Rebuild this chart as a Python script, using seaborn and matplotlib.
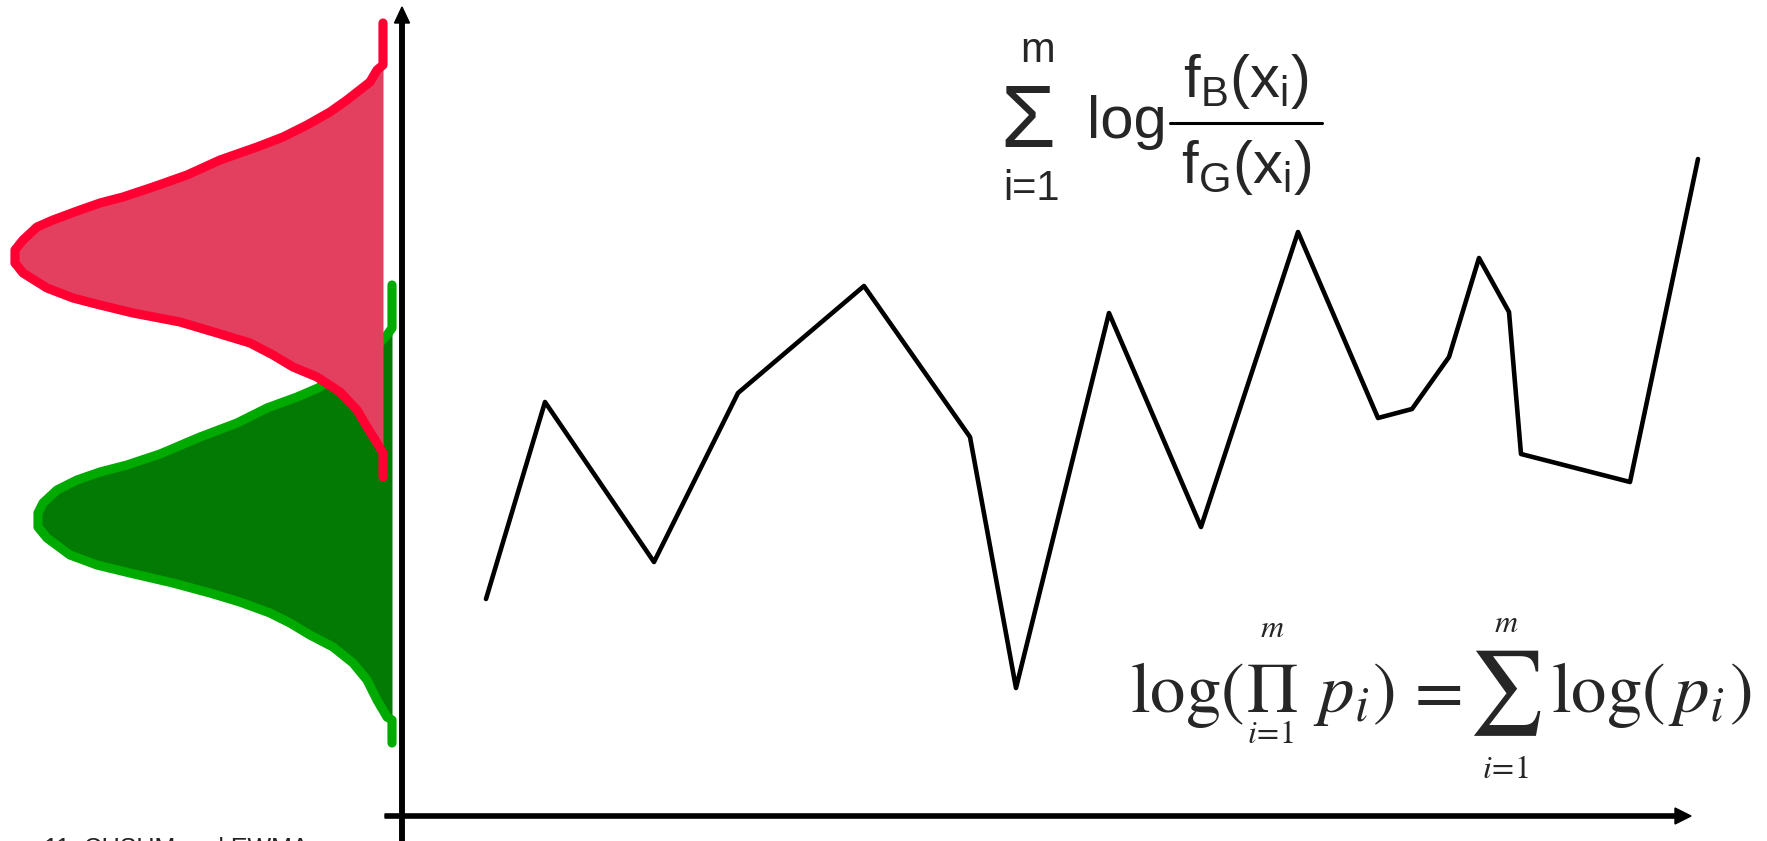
import matplotlib
matplotlib.use("Agg")
import matplotlib.pyplot as plt
import seaborn as sns

# Cumulative log-likelihood ratio path (time step, statistic)
step = [8.4, 14.3, 25.2, 33.6, 46.2, 56.8, 61.4, 70.7, 79.9, 89.6,
        97.6, 101.0, 104.7, 107.7, 110.7, 111.9, 122.8, 129.6]
score = [21.7, 41.4, 25.4, 42.3, 53.0, 37.9, 12.8, 50.3, 28.9, 58.4,
         39.8, 40.7, 45.9, 55.8, 50.4, 36.2, 33.4, 65.7]

# Out-of-control ("bad") distribution outline: level and density
bad_level = [79.3, 75.1, 74.6, 73.4, 71.6, 70.4, 69.1, 67.9, 66.9, 65.6, 64.1,
             62.9, 61.9, 61.3, 60.6, 59.6, 58.9, 57.6, 56.6, 55.3, 54.3, 52.8,
             51.8, 51.1, 50.3, 49.4, 48.3, 47.3, 46.1, 44.9, 43.9, 42.4, 40.6,
             38.9, 37.3, 36.3, 33.9]
bad_density = [0.0, 0.0, 0.6, 1.3, 3.6, 5.3, 7.6, 10.0, 12.6, 16.3, 19.6,
               23.0, 26.0, 28.3, 30.3, 33.0, 34.6, 36.0, 36.8, 36.8, 36.0, 33.6,
               31.0, 28.3, 25.0, 20.3, 16.6, 13.3, 11.0, 9.0, 6.6, 4.3, 2.6,
               1.6, 0.6, 0.0, 0.0]

# In-control ("good") distribution outline: level and density
good_level = [53.1, 48.8, 48.1, 47.1, 45.4, 44.1, 42.8, 41.9, 40.8, 39.3, 37.9,
              36.2, 35.1, 34.4, 33.6, 32.6, 31.3, 30.3, 28.9, 27.8, 26.1, 25.1,
              24.3, 23.3, 22.3, 21.4, 20.3, 19.3, 18.1, 16.9, 15.3, 13.6, 11.6,
              9.9, 9.6, 7.3]
good_density = [0.0, 0.0, 0.5, 1.4, 3.4, 5.2, 7.4, 9.5, 12.5, 15.5, 19.2,
                23.2, 26.5, 29.2, 31.5, 33.5, 34.9, 35.4, 35.4, 34.5, 32.2, 29.5,
                26.2, 21.9, 18.2, 15.2, 12.2, 10.2, 8.2, 5.9, 3.9, 2.5, 1.5,
                0.5, 0.0, 0.0]

sns.set_theme(style="white")
plt.rcParams["font.family"] = ["Liberation Sans", "DejaVu Sans"]
plt.rcParams["mathtext.fontset"] = "custom"
plt.rcParams["mathtext.rm"] = "Liberation Sans"
plt.rcParams["mathtext.it"] = "Liberation Sans"

fig = plt.figure(figsize=(17.67, 8.41), dpi=100)
fig.patch.set_facecolor("white")
ax = fig.add_axes([0, 0, 1, 1])
ax.set_xlim(-40.2, 136.5)
ax.set_ylim(-2.5, 81.6)
ax.set_axis_off()

# Distributions drawn sideways against the vertical axis
good_base = -1.0
bad_base = -1.9
good_x = [good_base - d for d in good_density]
bad_x = [bad_base - d for d in bad_density]

ax.fill_betweenx(good_level, good_x, good_base, color="#037A03", lw=0, zorder=2)
ax.plot(good_x, good_level, color="#00AA00", lw=6.6,
        solid_capstyle="round", solid_joinstyle="round", zorder=3)
ax.fill_betweenx(bad_level, bad_x, bad_base, color="#E34060", lw=0, zorder=4)
ax.plot(bad_x, bad_level, color="#FF0033", lw=6.6,
        solid_capstyle="round", solid_joinstyle="round", zorder=5)

# Axes drawn as arrows
ax.arrow(0, -3.0, 0, 83.9, width=0.45, head_width=1.5, head_length=1.6,
         length_includes_head=True, color="black", zorder=6, clip_on=False)
ax.arrow(-1.7, 0, 130.6, 0, width=0.42, head_width=1.6, head_length=1.6,
         length_includes_head=True, color="black", zorder=6, clip_on=False)

# Statistic path
sns.lineplot(x=step, y=score, ax=ax, color="black", linewidth=3.3,
             sort=False, estimator=None, zorder=7)
for ln in ax.lines:
    ln.set_solid_capstyle("round")
    ln.set_clip_on(False)

# Upper formula: sum of log likelihood ratios
ax.text(62.6, 66.9, "\u03a3", fontsize=64, ha="center", va="baseline")
ax.text(63.6, 75.4, "m", fontsize=30, ha="center", va="baseline")
ax.text(62.9, 61.6, "i=1", fontsize=30, ha="center", va="baseline")
ax.text(68.5, 67.8, "log", fontsize=43, ha="left", va="baseline")
ax.plot([76.8, 92.0], [69.3, 69.3], color="black", lw=2.2)
ax.text(84.4, 71.9, r"$\mathrm{f_B(x_i)}$", fontsize=43, ha="center",
        va="baseline", math_fontfamily="custom")
ax.text(84.4, 63.3, r"$\mathrm{f_G(x_i)}$", fontsize=43, ha="center",
        va="baseline", math_fontfamily="custom")

# Lower formula: log of a product equals sum of logs
serif = dict(va="baseline", math_fontfamily="stix")
big, small = 51, 23
base = 10.4
ax.text(72.8, base, r"$\log($", fontsize=big, ha="left", **serif)
ax.text(86.95, base, r"$\Pi$", fontsize=big, ha="center", **serif)
ax.text(87.0, 17.9, r"$m$", fontsize=small, ha="center", **serif)
ax.text(86.8, 7.3, r"$i\!=\!1$", fontsize=small, ha="center", **serif)
ax.text(91.1, base, r"$p_i$", fontsize=big, ha="left", **serif)
ax.text(97.0, base, r"$)$", fontsize=big, ha="left", **serif)
ax.text(103.1, base, r"$=$", fontsize=big, ha="center", **serif)
ax.text(110.3, 12.3, r"$\sum$", fontsize=60, ha="center", va="center",
        math_fontfamily="stix")
ax.text(110.4, 18.4, r"$m$", fontsize=small, ha="center", **serif)
ax.text(110.3, 3.8, r"$i\!=\!1$", fontsize=small, ha="center", **serif)
ax.text(114.9, base, r"$\log($", fontsize=big, ha="left", **serif)
ax.text(126.6, base, r"$p_i$", fontsize=big, ha="left", **serif)
ax.text(132.7, base, r"$)$", fontsize=big, ha="left", **serif)

# Footer
ax.text(-35.8, -4.0, "11. CUSUM and EWMA", fontsize=18, ha="left",
        va="baseline", color="#222222")

fig.savefig("out.png", dpi=100)
